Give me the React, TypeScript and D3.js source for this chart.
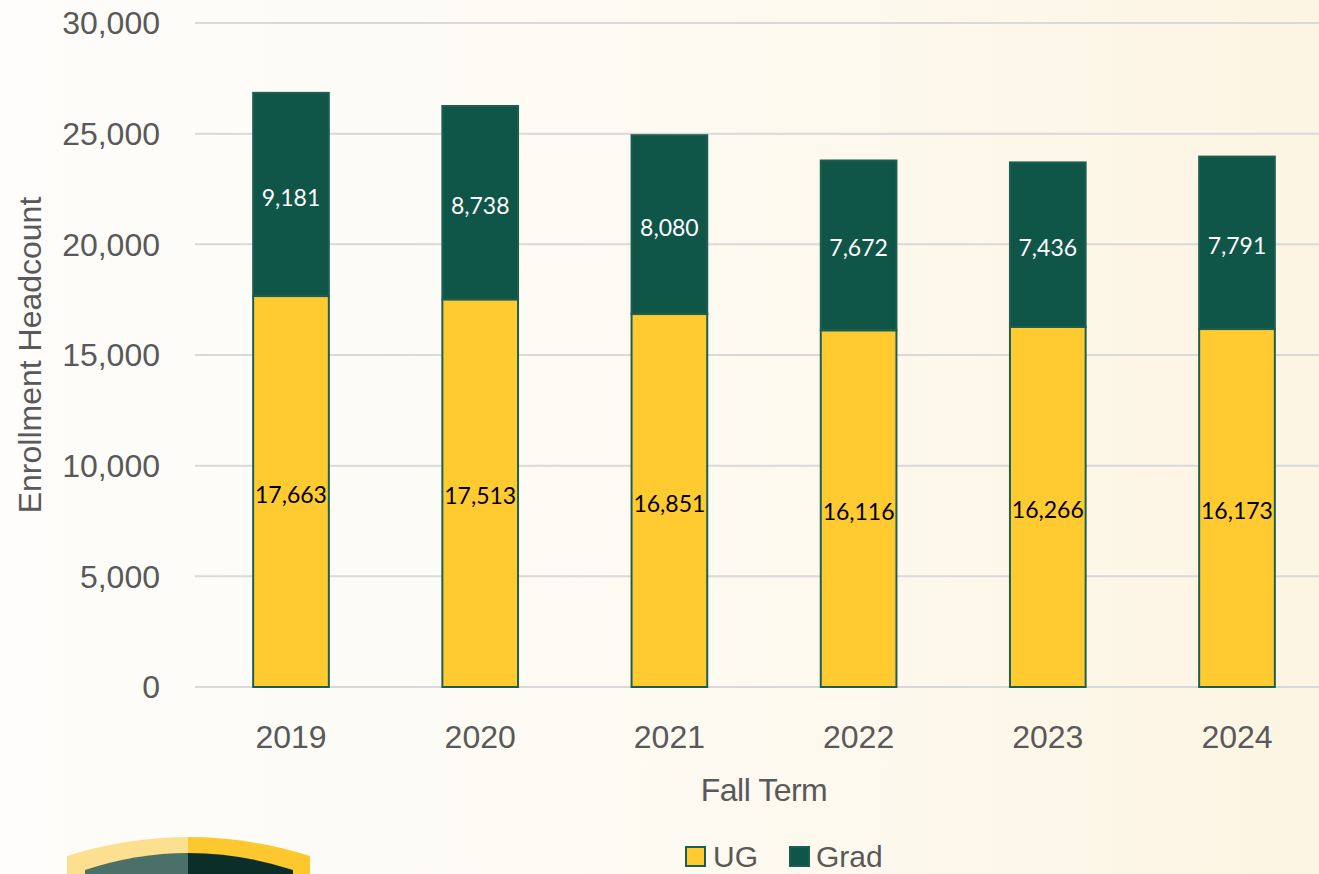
import React from "react";
import * as d3 from "d3";

const years = ["2019", "2020", "2021", "2022", "2023", "2024"];
const ugValues = [17663, 17513, 16851, 16116, 16266, 16173];
const gradValues = [9181, 8738, 8080, 7672, 7436, 7791];
const yTicks = [0, 5000, 10000, 15000, 20000, 25000, 30000];
const seriesNames = ["UG", "Grad"];

const W = 1319;
const H = 874;
const FONT = "'Liberation Sans', Arial, sans-serif";
const LABEL_FONT = "Lato, 'Open Sans', sans-serif";
const UG_COLOR = "#FFCB30";
const GRAD_COLOR = "#0F5548";
const EDGE = "#1E5E50";
const AXIS_SIZE = 32;

export default function App() {
  const x = d3.scaleBand<string>().domain(years).range([196.4, 1331.6]).paddingInner(0.6).paddingOuter(0.3);
  const y = d3.scaleLinear().domain([0, 30000]).range([687, 23]);
  const fmt = d3.format(",");
  const stack = d3.stack<any>().keys(["ug", "grad"]);
  const rows = years.map((yr, i) => ({ year: yr, ug: ugValues[i], grad: gradValues[i] }));
  const series = stack(rows);
  const bw = x.bandwidth();

  return (
    <svg width={W} height={H} style={{ position: "absolute", left: 0, top: 0, display: "block" }}>
      <defs>
        <linearGradient id="bg" x1="0" x2="1" y1="0" y2="0">
          <stop offset="0" stopColor="#fefdfb" />
          <stop offset="0.5" stopColor="#fdfaf2" />
          <stop offset="1" stopColor="#fdf5e3" />
        </linearGradient>
      </defs>
      <rect x={0} y={0} width={W} height={H} fill="url(#bg)" />
      {yTicks.map((t) => (
        <g key={t}>
          <line x1={195} x2={W} y1={y(t)} y2={y(t)} stroke="#d9d9d9" strokeWidth={2} />
          <text x={160} y={y(t)} dy="0.35em" textAnchor="end" fontFamily={FONT} fontSize={AXIS_SIZE} fill="#595959">
            {fmt(t)}
          </text>
        </g>
      ))}
      {series.map((s, si) =>
        s.map((d, i) => {
          const x0 = x(years[i])!;
          const y0 = y(d[1]);
          const h = y(d[0]) - y(d[1]);
          const fill = si === 0 ? UG_COLOR : GRAD_COLOR;
          return (
            <g key={si + "-" + i}>
              <rect x={x0} y={y0} width={bw} height={h} fill={fill} stroke={EDGE} strokeWidth={2} />
              <text
                x={x0 + bw / 2}
                y={y0 + h / 2 + 3}
                dy="0.35em"
                textAnchor="middle"
                fontFamily={LABEL_FONT}
                fontSize={23}
                fill={si === 0 ? "#000" : "#fff"}
              >
                {fmt(si === 0 ? ugValues[i] : gradValues[i])}
              </text>
            </g>
          );
        })
      )}
      {years.map((yr) => (
        <text key={yr} x={x(yr)! + bw / 2} y={737} dy="0.35em" textAnchor="middle" fontFamily={FONT} fontSize={AXIS_SIZE} fill="#595959">
          {yr}
        </text>
      ))}
      <text x={764} y={790} dy="0.35em" textAnchor="middle" fontFamily={FONT} fontSize={AXIS_SIZE} fill="#595959" letterSpacing={-0.5}>
        Fall Term
      </text>
      <text
        transform={`translate(30,355) rotate(-90)`}
        dy="0.35em"
        textAnchor="middle"
        fontFamily={FONT}
        fontSize={AXIS_SIZE}
        fill="#595959"
      >
        Enrollment Headcount
      </text>
      {/* legend */}
      <g>
        <rect x={686} y={847} width={19} height={19} fill={UG_COLOR} stroke={EDGE} strokeWidth={2} />
        <text x={713} y={856} dy="0.35em" fontFamily={FONT} fontSize={30} fill="#595959">
          {seriesNames[0]}
        </text>
        <rect x={790} y={847} width={19} height={19} fill={GRAD_COLOR} stroke={EDGE} strokeWidth={2} />
        <text x={816} y={856} dy="0.35em" fontFamily={FONT} fontSize={30} fill="#595959">
          {seriesNames[1]}
        </text>
      </g>
      {/* logo */}
      <g>
        <clipPath id="lclip">
          <rect x={0} y={0} width={188} height={H} />
        </clipPath>
        <clipPath id="rclip">
          <rect x={188} y={0} width={200} height={H} />
        </clipPath>
        <path d="M67,856 Q188,818 310,856 L310,880 L67,880 Z" fill="#fde08f" clipPath="url(#lclip)" />
        <path d="M67,856 Q188,818 310,856 L310,880 L67,880 Z" fill="#fcc82e" clipPath="url(#rclip)" />
        <path d="M85,870 Q188,836 293,870 L293,880 L85,880 Z" fill="#4b7067" clipPath="url(#lclip)" />
        <path d="M85,870 Q188,836 293,870 L293,880 L85,880 Z" fill="#0b2e28" clipPath="url(#rclip)" />
      </g>
    </svg>
  );
}
